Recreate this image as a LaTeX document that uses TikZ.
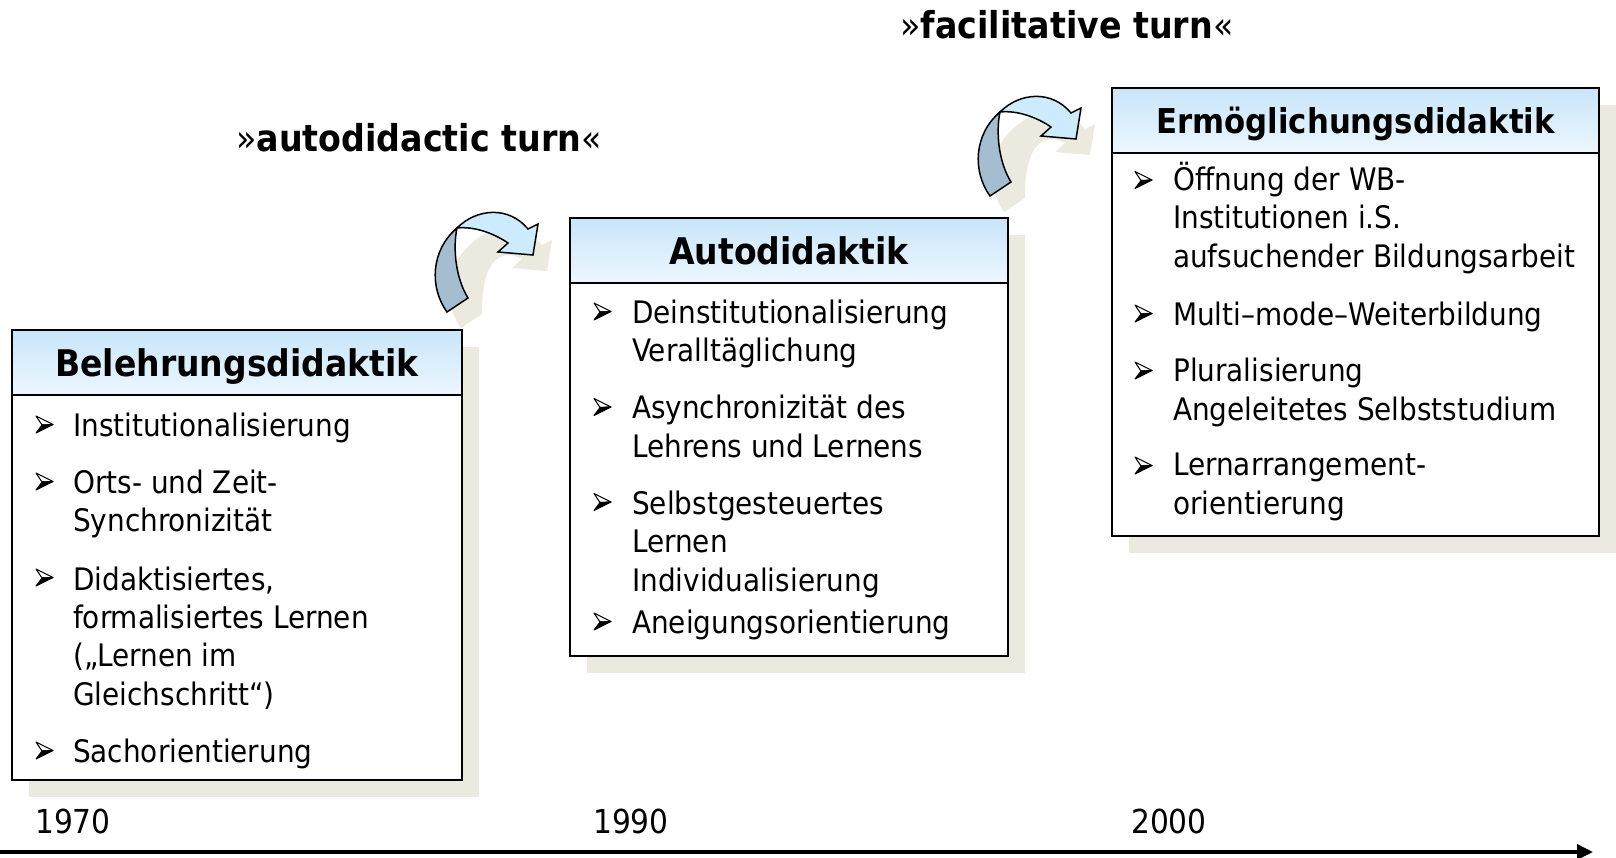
\documentclass[tikz,border=0pt]{standalone}
\usepackage{fontspec}
\setmainfont{DejaVu Sans Condensed}
\usepackage{tikz}
\usetikzlibrary{arrows.meta, shadows}

\definecolor{headtop}{HTML}{C8E5FA}
\definecolor{headbot}{HTML}{ECF7FE}
\definecolor{shadowc}{HTML}{ECE9DF}
\definecolor{turnlight}{HTML}{CCEBFE}
\definecolor{turndark}{HTML}{A4BDD1}

\newcommand{\bodyfont}{\fontsize{31}{38.2}\selectfont}

\tikzset{
  turnarrow/.pic={
    % shadow, then the twisted band and the head
    \fill[shadowc, shift={(14,16)}] (0,0) .. controls (-18,-25) and (-16,-62) .. (10,-84)
      .. controls (30,-104) and (62,-106) .. (81,-83) -- (91,-88) -- (86,-57) -- (51,-60)
      -- (61,-69) .. controls (45,-78) and (20,-75) .. (21,-14) -- cycle;
    \filldraw[fill=turndark, line width=1.5pt] (0,0) .. controls (-18,-25) and (-16,-62) .. (10,-84)
      .. controls (6,-65) and (8,-35) .. (21,-14) -- cycle;
    \filldraw[fill=turnlight, line width=1.5pt] (10,-84) .. controls (30,-104) and (62,-106) .. (81,-83)
      -- (91,-88) -- (86,-57) -- (51,-60) -- (61,-69) .. controls (48,-78) and (28,-86) .. (10,-84) -- cycle;
  },
  bulletmark/.pic={
    % 3d arrowhead: lit upper facet, dark lower facet
    \filldraw[fill=white, line width=1pt, line join=round] (0,-20) -- (17,-11.5) -- (6,-11) -- cycle;
    \filldraw[fill=black, line width=1pt, line join=round] (6,-11) -- (17,-11.5) -- (0,-3) -- cycle;
  }
}

\begin{document}
\begin{tikzpicture}[x=1pt, y=-1pt,
  panel/.style={draw, line width=1.5pt, fill=white, anchor=north west, inner sep=0, outer sep=0,
    drop shadow={shadow xshift=17pt, shadow yshift=-17pt, fill=shadowc, opacity=1}},
  header/.style={draw, line width=1.5pt, anchor=north west, inner sep=0, outer sep=0,
    minimum height=65pt, top color=headtop, bottom color=headbot,
    font=\bfseries\fontsize{36.7}{40}\selectfont, text height=27pt, text depth=0pt},
  entrytxt/.style={anchor=base west, align=left, inner sep=0, font=\bodyfont},
  yearlabel/.style={anchor=base west, inner sep=0, font=\fontsize{33}{36}\selectfont},
  turnlabel/.style={anchor=base, inner sep=0, font=\fontsize{37}{40}\selectfont}]
\useasboundingbox (0,0) rectangle (1616,857);

% turns between the phases
\pic at (447,312) {turnarrow};
\pic at (990,196) {turnarrow};
\node[turnlabel] (autoturn) at (419,151) {»\textbf{autodidactic turn}«};
\node[turnlabel] (facturn) at (1067,38) {»\textbf{facilitative turn}«};

% Belehrungsdidaktik (multi-line entries sit on their last baseline)
\node[panel, minimum width=450pt, minimum height=450pt] (bel) at (12,330) {};
\node[header, minimum width=450pt] (belhead) at (bel.north west) {Belehrungsdidaktik};
\pic at (36,436) {bulletmark};
\node[entrytxt] (bel1) at (73,436) {Institutionalisierung};
\pic at (36,493) {bulletmark};
\node[entrytxt] (bel2) at (73,531.5) {Orts- und Zeit-\\Synchronizität};
\pic at (36,589) {bulletmark};
\node[entrytxt] (bel3) at (73,705) {Didaktisiertes,\\formalisiertes Lernen\\(„Lernen im\\Gleichschritt“)};
\pic at (36,762) {bulletmark};
\node[entrytxt] (bel4) at (73,762) {Sachorientierung};

% Autodidaktik
\node[panel, minimum width=438pt, minimum height=438pt] (auto) at (570,218) {};
\node[header, minimum width=438pt] (autohead) at (auto.north west) {Autodidaktik};
\pic at (594,323) {bulletmark};
\node[entrytxt] (auto1) at (632,361.5) {Deinstitutionalisierung\\Veralltäglichung};
\pic at (594,418.5) {bulletmark};
\node[entrytxt] (auto2) at (632,457) {Asynchronizität des\\Lehrens und Lernens};
\pic at (594,513.5) {bulletmark};
\node[entrytxt] (auto3) at (632,591) {Selbstgesteuertes\\Lernen\\Individualisierung};
\pic at (594,633) {bulletmark};
\node[entrytxt] (auto4) at (632,633) {Aneigungsorientierung};

% Ermoeglichungsdidaktik
\node[panel, minimum width=487pt, minimum height=448pt] (erm) at (1112,88) {};
\node[header, minimum width=487pt, font=\bfseries\fontsize{34.2}{38}\selectfont, text height=25pt] (ermhead) at (erm.north west) {Ermöglichungsdidaktik};
\pic at (1135,191.5) {bulletmark};
\node[entrytxt] (erm1) at (1173,267) {Öffnung der WB-\\Institutionen i.S.\\aufsuchender Bildungsarbeit};
\pic at (1135,325) {bulletmark};
\node[entrytxt] (erm2) at (1173,325) {Multi–mode–Weiterbildung};
\pic at (1135,382) {bulletmark};
\node[entrytxt] (erm3) at (1173,420) {Pluralisierung\\Angeleitetes Selbststudium};
\pic at (1135,477) {bulletmark};
\node[entrytxt] (erm4) at (1173,514) {Lernarrangement-\\orientierung};

% time line
\node[yearlabel] (y1970) at (35,833) {1970};
\node[yearlabel] (y1990) at (593,833) {1990};
\node[yearlabel] (y2000) at (1131,833) {2000};
\coordinate (tstart) at (0,852);
\coordinate (tend) at (1593,852);
\draw[line width=3.5pt, -{Triangle[length=16pt, width=15pt]}] (tstart) -- (tend);
\end{tikzpicture}
\end{document}
